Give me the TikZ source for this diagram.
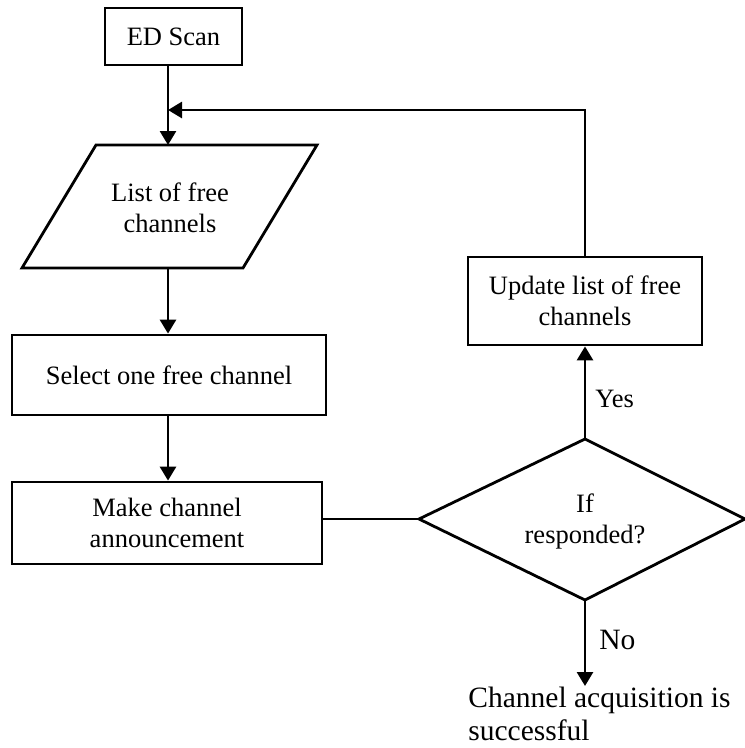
\documentclass[tikz,border=0pt]{standalone}
\usepackage{fontspec}
\setmainfont{Liberation Serif}
\usetikzlibrary{arrows.meta}
\begin{document}
\begin{tikzpicture}[x=1pt,y=-1pt,
  line width=2.8pt,
  every node/.style={font=\fontsize{26.5}{31}\selectfont, align=center, inner sep=0pt},
  box/.style={draw, line width=2.8pt},
  flow/.style={-{Triangle[width=16pt,length=14pt]}},
  big/.style={font=\fontsize{29.5}{33}\selectfont},
]
\useasboundingbox (0,0) rectangle (745,748);

% process boxes
\node[box, minimum width=137pt, minimum height=57pt] (scan) at (173.5,36.5) {ED Scan};
\node[box, minimum width=314pt, minimum height=80pt] (select) at (169,375) {Select one free channel};
\node[box, minimum width=310pt, minimum height=82pt] (announce) at (167,523) {Make channel\\announcement};
\node[box, minimum width=234pt, minimum height=88pt] (update) at (585,301) {Update list of free\\channels};

% input/output: list of free channels
\coordinate (lsttop) at (168,145);
\coordinate (lstbot) at (168,268);
\draw (96,145) -- (317,145) -- (243,268) -- (22,268) -- cycle;
\node (list) at (170,208) {List of free\\channels};

% decision
\coordinate (dtop) at (585,439);
\coordinate (dleft) at (419,519);
\coordinate (dbot) at (585,600);
\coordinate (dright) at (745,519);
\draw (dtop) -- (dleft) -- (dbot) -- (dright) -- cycle;
\node (decide) at (585,521) {If\\responded?};

% terminal text
\node[big, align=left, anchor=north west] (done) at (467,686) {Channel acquisition is\\successful};

% connectors
\coordinate (join) at (168,110);
\coordinate (corner) at (585,110);
\draw[flow] (scan.south -| lsttop) -- (lsttop);
\draw[flow] (lstbot) -- (select.north -| lstbot);
\draw[flow] (select.south -| lstbot) -- (announce.north -| lstbot);
\draw (announce.east |- dleft) -- (dleft);
\draw[flow] (dtop) -- (update.south);
\draw[flow] (update.north) -- (corner) -- (join);
\draw[flow] (dbot) -- (dbot |- done.north);

% branch labels
\node[anchor=west] (yes) at (594,399) {Yes};
\node[big, anchor=west] (no) at (598,640) {No};
\end{tikzpicture}
\end{document}
